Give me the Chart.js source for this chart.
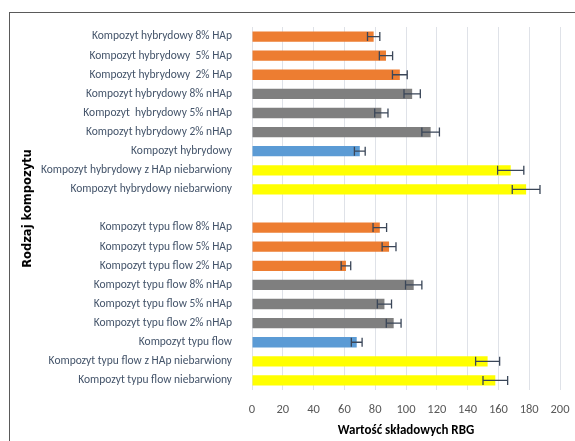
<!DOCTYPE html>
<html>
<head>
<meta charset="utf-8">
<script src="https://cdn.jsdelivr.net/npm/chart.js@4"></script>
<style>
  html, body { margin: 0; padding: 0; background: #fff; overflow: hidden; }
  #wrap { position: relative; width: 575px; height: 441px; overflow: hidden; }
  #frame { position: absolute; left: 9px; top: 12px; width: 700px; height: 600px; border: 1.5px solid #5a5a5a; }
  #chart { position: absolute; left: 0; top: 0; }
</style>
</head>
<body>
<div id="wrap">
  <div id="frame"></div>
  <canvas id="chart" width="575" height="441"></canvas>
</div>
<script>

const categories = [
    "Kompozyt hybrydowy 8% HAp",
    "Kompozyt hybrydowy  5% HAp",
    "Kompozyt hybrydowy  2% HAp",
    "Kompozyt hybrydowy 8% nHAp",
    "Kompozyt  hybrydowy 5% nHAp",
    "Kompozyt hybrydowy 2% nHAp",
    "Kompozyt hybrydowy",
    "Kompozyt hybrydowy z HAp niebarwiony",
    "Kompozyt hybrydowy niebarwiony",
    "",
    "Kompozyt typu flow 8% HAp",
    "Kompozyt typu flow 5% HAp",
    "Kompozyt typu flow 2% HAp",
    "Kompozyt typu flow 8% nHAp",
    "Kompozyt typu flow 5% nHAp",
    "Kompozyt typu flow 2% nHAp",
    "Kompozyt typu flow",
    "Kompozyt typu flow z HAp niebarwiony",
    "Kompozyt typu flow niebarwiony"
];

const values = [79, 87, 96, 104, 84, 116, 70, 168, 178, null, 83, 89, 61, 105, 86, 92, 68, 153, 158];

const errors = [4, 4.3, 4.8, 5.3, 4.3, 5.7, 3.5, 8.5, 9, null, 4.4, 4.5, 3.1, 5.3, 4.6, 4.8, 3.5, 7.8, 8];

const kinds = ["HAp", "HAp", "HAp", "nHAp", "nHAp", "nHAp", "base", "raw", "raw", "",
    "HAp", "HAp", "HAp", "nHAp", "nHAp", "nHAp", "base", "raw", "raw"];

const xTicks = [0, 20, 40, 60, 80, 100, 120, 140, 160, 180, 200];

const kindColors = {
    HAp: "#ed7d31",
    nHAp: "#7f7f7f",
    base: "#5b9bd5",
    raw: "#ffff00",
    "": "rgba(0,0,0,0)"
};

const fontFamily = "Carlito, 'Liberation Sans Narrow', 'Open Sans', sans-serif";

// error bars drawn with the x scale of the chart
const errorBars = {
    id: "errorBars",
    afterDatasetsDraw(chart) {
        const ctx = chart.ctx;
        const xs = chart.scales.x;
        const meta = chart.getDatasetMeta(0);
        ctx.save();
        ctx.strokeStyle = "#3a4658";
        ctx.lineWidth = 1.3;
        meta.data.forEach((bar, i) => {
            if (values[i] == null) return;
            const x1 = xs.getPixelForValue(values[i] - errors[i]);
            const x2 = xs.getPixelForValue(values[i] + errors[i]);
            const y = bar.y;
            ctx.beginPath();
            ctx.moveTo(x1, y);
            ctx.lineTo(x2, y);
            ctx.moveTo(x1, y - 4.5);
            ctx.lineTo(x1, y + 4.5);
            ctx.moveTo(x2, y - 4.5);
            ctx.lineTo(x2, y + 4.5);
            ctx.stroke();
        });
        ctx.restore();
    }
};

function barColor(context) {
    const kind = kinds[context.dataIndex];
    const bar = context.element;
    if (kind === "base" && bar && bar.height) {
        // soft vertical shading like the original blue bars
        const g = context.chart.ctx.createLinearGradient(0, bar.y - bar.height / 2, 0, bar.y + bar.height / 2);
        g.addColorStop(0, "#6ea9de");
        g.addColorStop(1, "#4b89c9");
        return g;
    }
    return kindColors[kind];
}

new Chart(document.getElementById("chart"), {

    type: "bar",

    data: {
        labels: categories,
        datasets: [{
            data: values,
            backgroundColor: barColor,
            barPercentage: 0.54,
            categoryPercentage: 1
        }]
    },

    options: {
        indexAxis: "y",
        responsive: false,
        animation: false,
        layout: {
            padding: { left: 12, top: 27, right: 0, bottom: 0 }
        },
        plugins: {
            legend: { display: false },
            tooltip: { enabled: false }
        },
        scales: {
            x: {
                min: 0,
                max: 200,
                afterBuildTicks: scale => {
                    scale.ticks = xTicks.map(v => ({ value: v }));
                },
                afterFit: scale => {
                    scale.height = 51;
                    scale.paddingLeft = 0;
                    scale.paddingRight = 15;
                },
                grid: { color: "#dfe2e8", drawTicks: false },
                border: { display: false },
                ticks: {
                    color: "#595959",
                    padding: 12,
                    font: { family: fontFamily, size: 12.5 }
                },
                title: {
                    display: true,
                    text: "Wartość składowych RBG",
                    color: "#000",
                    padding: { top: 0, bottom: 2 },
                    font: { family: fontFamily, size: 13, weight: "bold" }
                }
            },
            y: {
                afterFit: scale => { scale.width = 240; },
                grid: { display: false },
                border: { display: false },
                ticks: {
                    color: "#44546a",
                    padding: 12,
                    autoSkip: false,
                    font: { family: fontFamily, size: 11.5 }
                },
                title: {
                    display: true,
                    text: "Rodzaj kompozytu",
                    color: "#000",
                    padding: { top: 9, bottom: 0 },
                    font: { family: "'DejaVu Sans'", size: 11.5, weight: "bold" }
                }
            }
        }
    },

    plugins: [errorBars]

});

</script>
</body>
</html>
